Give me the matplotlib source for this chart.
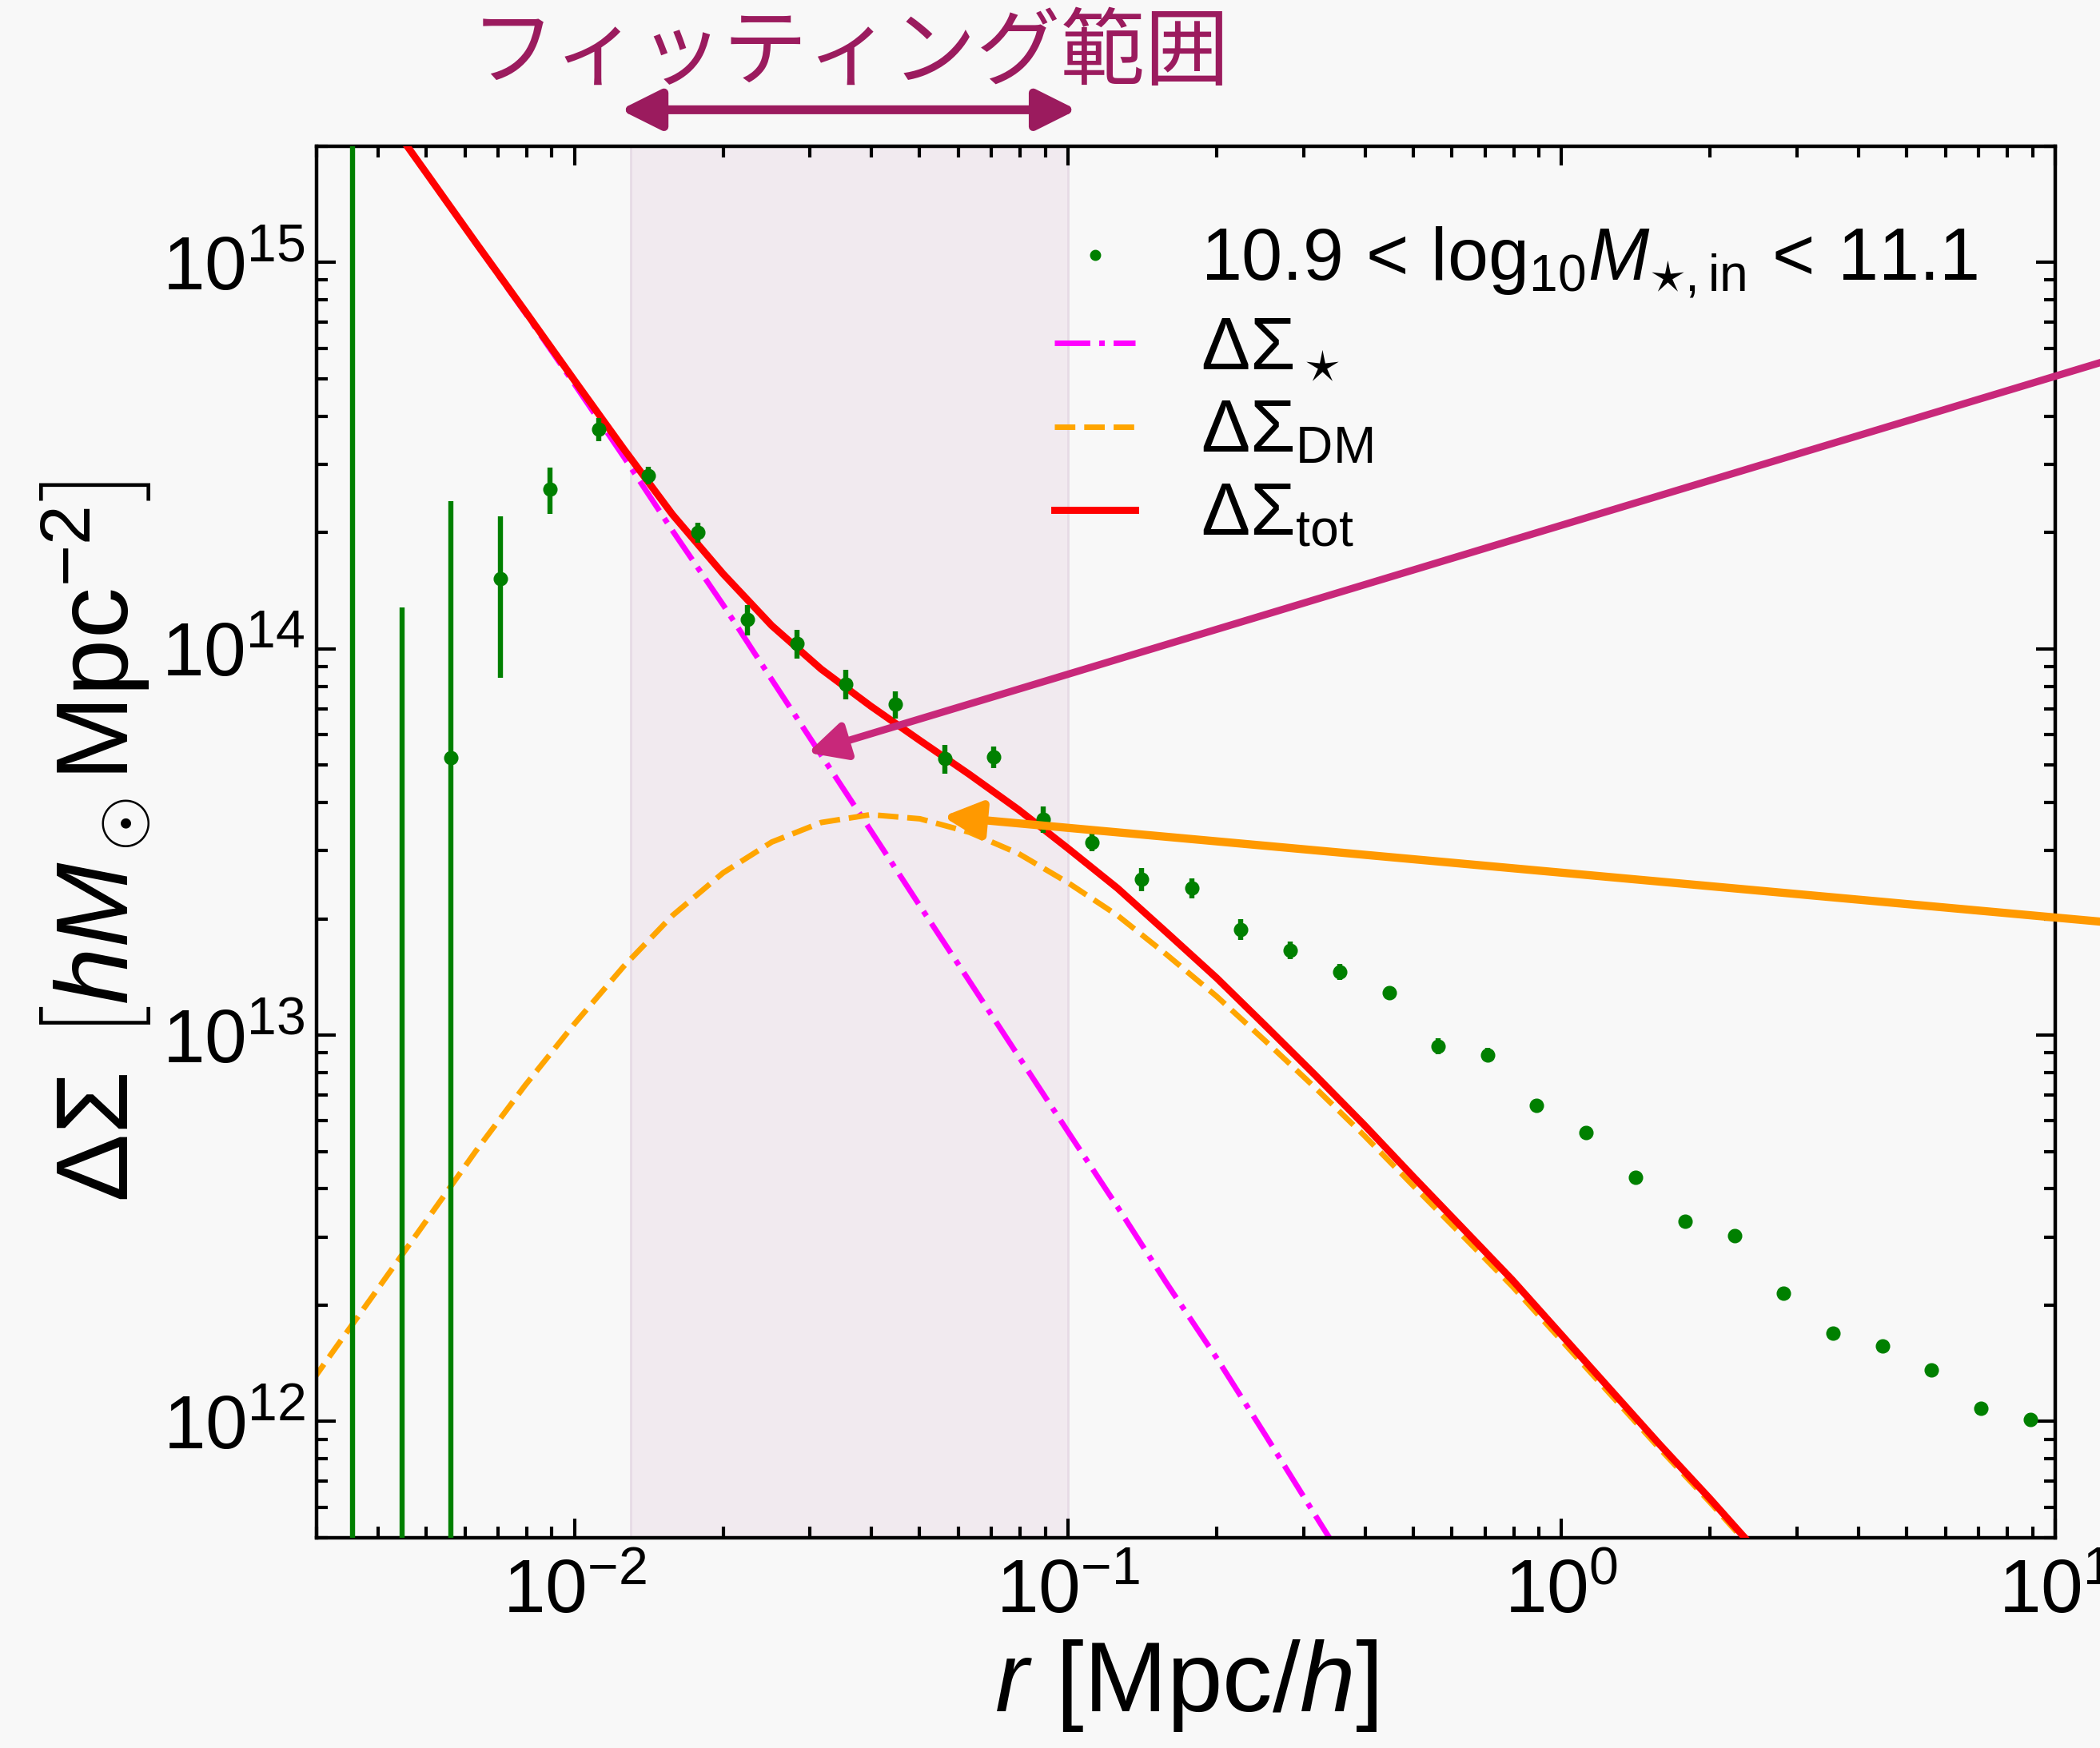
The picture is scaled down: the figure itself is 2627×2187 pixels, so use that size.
"""
Excess surface density profile with stellar / DM / total model curves
"""

import numpy as np
import matplotlib
matplotlib.use("Agg")
import matplotlib.pyplot as plt
from matplotlib.lines import Line2D

# ── Measured profile ─────────────────────────────────────────
r_obs = [0.00355, 0.00447, 0.00562, 0.00708, 0.00891, 0.0112, 0.0141, 0.0178,
         0.0224, 0.0282, 0.0355, 0.0447, 0.0562, 0.0708, 0.0891, 0.112, 0.141,
         0.178, 0.224, 0.282, 0.355, 0.447, 0.562, 0.708, 0.891, 1.12, 1.41,
         1.78, 2.24, 2.82, 3.55, 4.47, 5.62, 7.08, 8.91]
ds_obs = [-2.0e15, -5.0e13, 5.23e13, 1.52e14, 2.59e14, 3.70e14, 2.81e14, 2.00e14,
          1.19e14, 1.03e14, 8.11e13, 7.18e13, 5.20e13, 5.24e13, 3.62e13, 3.16e13,
          2.53e13, 2.40e13, 1.88e13, 1.66e13, 1.46e13, 1.29e13, 9.36e12, 8.90e12,
          6.58e12, 5.60e12, 4.29e12, 3.30e12, 3.03e12, 2.15e12, 1.69e12, 1.57e12,
          1.36e12, 1.08e12, 1.01e12]
ds_err = [5.0e15, 1.78e14, 1.89e14, 6.8e13, 3.6e13, 2.5e13, 1.5e13, 1.2e13,
          1.05e13, 8.7e12, 7.0e12, 5.7e12, 4.5e12, 3.4e12, 2.8e12, 1.7e12,
          1.75e12, 1.4e12, 1.2e12, 9.0e11, 7.0e11, 5.0e11, 4.4e11, 3.5e11,
          2.5e11, 2.0e11, 1.6e11, 1.3e11, 1.2e11, 8.5e10, 6.5e10, 6.0e10,
          5.0e10, 4.0e10, 4.0e10]

# ── Model curves ─────────────────────────────────────────────
r_model = [0.00251, 0.00316, 0.00398, 0.00501, 0.00631, 0.00794, 0.0100, 0.0126,
           0.0158, 0.0200, 0.0251, 0.0316, 0.0398, 0.0501, 0.0631, 0.0794, 0.100,
           0.126, 0.158, 0.200, 0.251, 0.316, 0.398, 0.501, 0.631, 0.794, 1.00,
           1.26, 1.58, 2.00, 2.51, 3.16]
ds_star = [5.89e15, 3.89e15, 2.57e15, 1.70e15, 1.12e15, 7.41e14, 4.84e14, 3.13e14,
           2.02e14, 1.30e14, 8.32e13, 5.31e13, 3.39e13, 2.16e13, 1.38e13, 8.81e12,
           5.62e12, 3.59e12, 2.29e12, 1.46e12, 9.23e11, 5.75e11, 3.59e11, 2.24e11,
           1.40e11, 8.71e10, 5.43e10, 3.39e10, 2.11e10, 1.32e10, 8.22e9, 5.13e9]
ds_dm = [9.55e11, 1.45e12, 2.19e12, 3.31e12, 5.01e12, 7.41e12, 1.07e13, 1.51e13,
         2.04e13, 2.63e13, 3.16e13, 3.55e13, 3.72e13, 3.63e13, 3.35e13, 2.95e13,
         2.48e13, 2.04e13, 1.62e13, 1.26e13, 9.66e12, 7.33e12, 5.50e12, 4.07e12,
         3.02e12, 2.24e12, 1.62e12, 1.17e12, 8.51e11, 6.17e11, 4.47e11, 3.24e11]

FIT_RANGE = (0.013, 0.1)

BG = "#f8f8f8"
PURPLE = "#9b1b5e"

plt.rcParams["font.family"] = ["Liberation Sans", "DejaVu Sans"]
plt.rcParams["mathtext.fontset"] = "custom"
plt.rcParams["mathtext.rm"] = "Liberation Sans"
plt.rcParams["mathtext.it"] = "Liberation Sans:italic"
plt.rcParams["mathtext.bf"] = "Liberation Sans:bold"
plt.rcParams["mathtext.sf"] = "Liberation Sans"

fig = plt.figure(figsize=(13.135, 10.935), dpi=200, facecolor=BG)
ax = fig.add_axes([0.1507, 0.1203, 0.8279, 0.7961], facecolor=BG)

ax.axvspan(*FIT_RANGE, facecolor="#f1eaef", edgecolor="#e6dbe5", lw=1.0, zorder=0)

ds_tot = np.array(ds_star) + np.array(ds_dm)

ax.plot(r_model, ds_star, color="magenta", ls="-.", lw=2.5, zorder=2)
ax.plot(r_model, ds_dm, color="orange", ls="--", lw=2.5, zorder=2)
ax.plot(r_model, ds_tot, color="red", ls="-", lw=3.2, zorder=3)

ax.errorbar(r_obs, ds_obs, yerr=ds_err, fmt="o", color="green", ms=5.5,
            elinewidth=2.3, capsize=0, zorder=4)

ax.set_xscale("log")
ax.set_yscale("log")
ax.set_xlim(3e-3, 10)
ax.set_ylim(5e11, 2e15)

for sp in ax.spines.values():
    sp.set_linewidth(1.6)
ax.tick_params(which="both", direction="in", top=True, right=True, width=1.5)
ax.tick_params(which="major", length=8.5, labelsize=34)
ax.tick_params(axis="x", which="major", pad=9)
ax.tick_params(axis="y", which="major", pad=5)
ax.tick_params(which="minor", length=5)

ax.set_xlabel(r"$r\ \left[\mathrm{Mpc}/h\right]$", fontsize=45, labelpad=4)
ax.set_ylabel(r"$\Delta\Sigma\ \left[hM_\odot\mathrm{Mpc}^{-2}\right]$",
              fontsize=46, labelpad=4)

handles = [
    Line2D([], [], marker="o", ls="none", color="green", ms=4),
    Line2D([], [], color="magenta", ls="-.", lw=2.5),
    Line2D([], [], color="orange", ls="--", lw=2.5),
    Line2D([], [], color="red", ls="-", lw=3.2),
]
labels = [
    r"$10.9\,<\,\mathrm{log}_{10}M_{\star,\mathrm{in}}\,<\,11.1$",
    r"$\Delta\Sigma_\star$",
    r"$\Delta\Sigma_\mathrm{DM}$",
    r"$\Delta\Sigma_\mathrm{tot}$",
]
ax.legend(handles, labels, loc="upper left", bbox_to_anchor=(0.395, 0.98),
          frameon=False, fontsize=33, handlelength=1.1, handletextpad=0.9,
          labelspacing=0.2, borderpad=0.2)

# fitting-range label and double arrow above the axes
fig.text(0.405, 0.969, "フィッティング範囲", color=PURPLE, fontsize=38,
         ha="center", va="center", family=["Noto Sans CJK JP", "DejaVu Sans"])
ax.annotate("", xy=(0.2954, 0.9372), xytext=(0.5128, 0.9372),
            xycoords="figure fraction", textcoords="figure fraction",
            arrowprops=dict(arrowstyle="<|-|>,head_length=0.4,head_width=0.2",
                            mutation_scale=38, color=PURPLE, lw=4,
                            shrinkA=0, shrinkB=0))

# pointers to the stellar and DM components
ax.annotate("", xy=(0.0297, 5.38e13), xycoords="data",
            xytext=(1.03, 0.8034), textcoords="figure fraction",
            arrowprops=dict(arrowstyle="-|>,head_length=0.4,head_width=0.2",
                            mutation_scale=36, color="#c8287a", lw=3.3,
                            shrinkA=0, shrinkB=0), zorder=6)
ax.annotate("", xy=(0.0558, 3.68e13), xycoords="data",
            xytext=(1.03, 0.4695), textcoords="figure fraction",
            arrowprops=dict(arrowstyle="-|>,head_length=0.4,head_width=0.2",
                            mutation_scale=36, color="#ff9900", lw=3.7,
                            shrinkA=0, shrinkB=0), zorder=6)

fig.savefig("out.png", dpi=200, facecolor=BG)
